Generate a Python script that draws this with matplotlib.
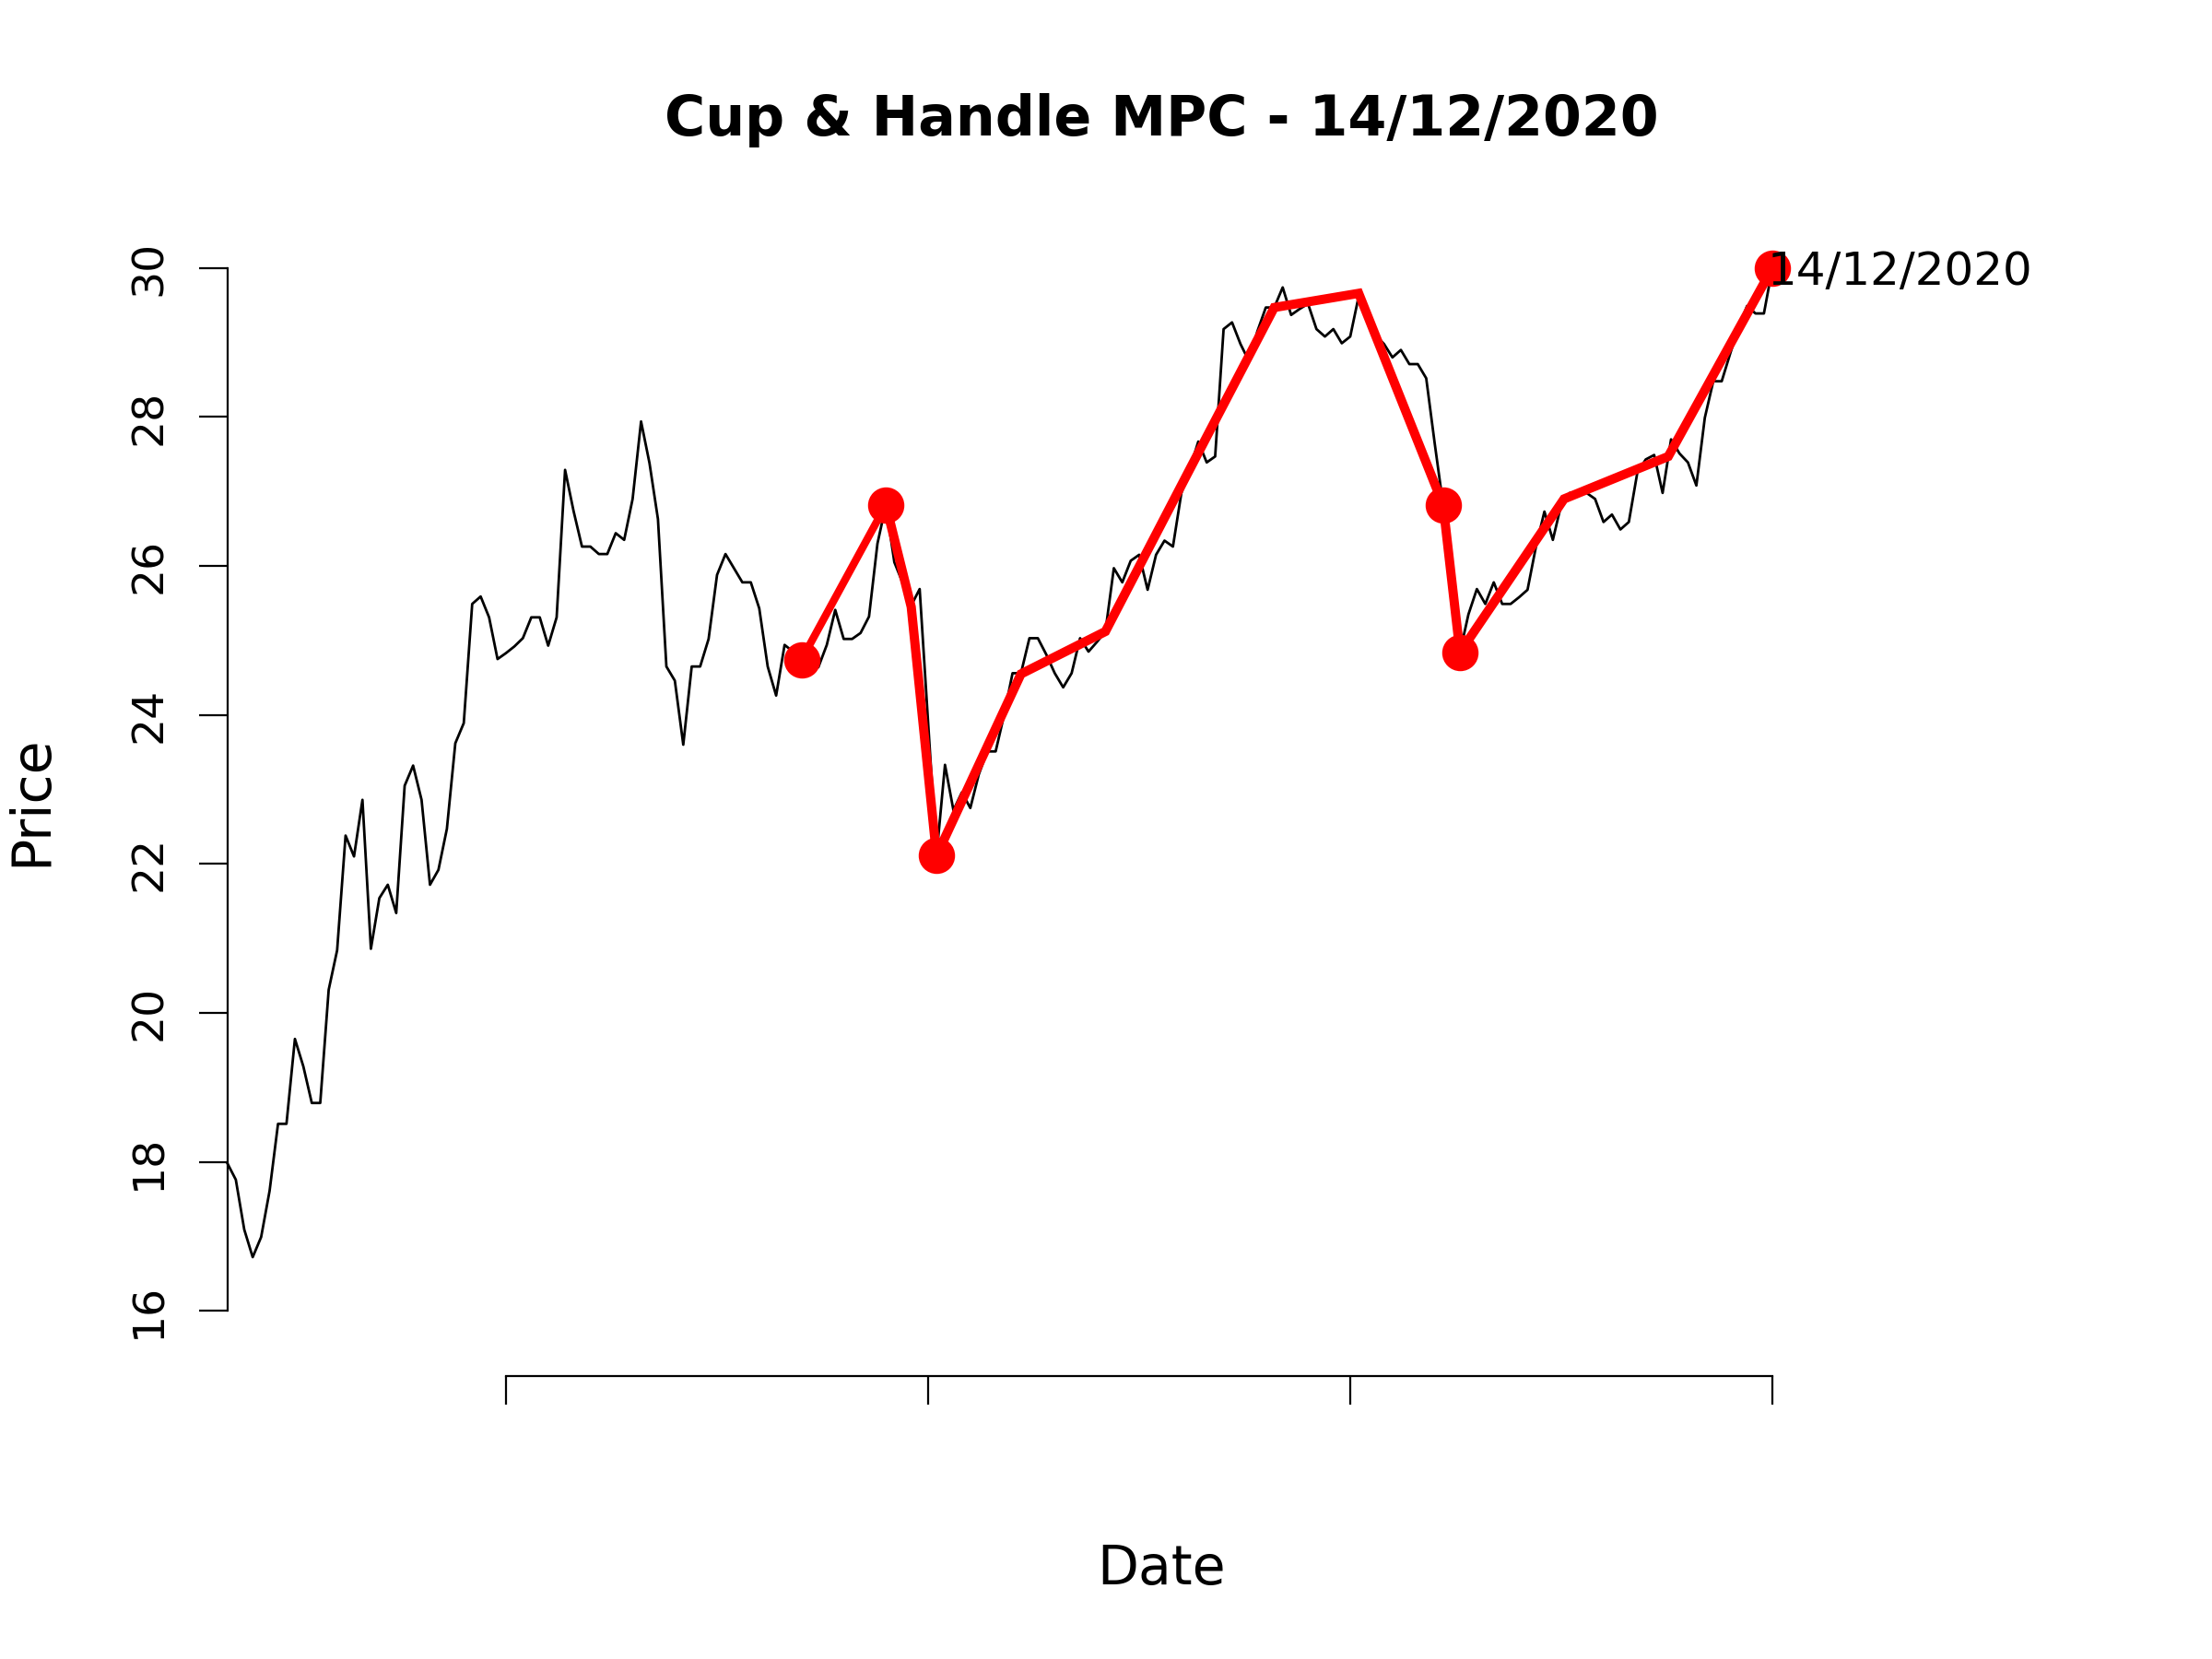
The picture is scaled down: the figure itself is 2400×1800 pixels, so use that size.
import matplotlib
matplotlib.use("Agg")
import matplotlib.pyplot as plt
import numpy as np

# ---- data -------------------------------------------------------------
start_index = 17
price = [
    17.98, 17.76, 17.09, 16.72, 16.99, 17.61, 18.51, 18.51, 19.65, 19.28,
    18.79, 18.79, 20.31, 20.84, 22.38, 22.10, 22.86, 20.86, 21.54, 21.72,
    21.34, 23.05, 23.32, 22.86, 21.72, 21.92, 22.47, 23.62, 23.89, 25.49,
    25.59, 25.31, 24.75, 24.83, 24.92, 25.03, 25.31, 25.31, 24.93, 25.31,
    27.29, 26.74, 26.26, 26.26, 26.16, 26.16, 26.44, 26.35, 26.90, 27.94,
    27.38, 26.63, 24.65, 24.46, 23.60, 24.65, 24.65, 25.02, 25.88, 26.16,
    25.97, 25.78, 25.78, 25.43, 24.65, 24.26, 24.94, 24.85, 24.74, 24.70,
    24.64, 24.94, 25.41, 25.02, 25.02, 25.10, 25.32, 26.30, 26.82, 26.05,
    25.77, 25.47, 25.69, 23.90, 22.11, 23.33, 22.72, 22.96, 22.75, 23.20,
    23.51, 23.51, 24.00, 24.56, 24.56, 25.03, 25.03, 24.81, 24.56, 24.37,
    24.56, 25.03, 24.85, 24.98, 25.12, 25.97, 25.78, 26.07, 26.15, 25.68,
    26.15, 26.34, 26.26, 26.98, 27.30, 27.67, 27.39, 27.47, 29.18, 29.27,
    28.98, 28.75, 29.15, 29.47, 29.47, 29.74, 29.37, 29.45, 29.52, 29.18,
    29.08, 29.18, 28.99, 29.08, 29.62, 29.40, 29.10, 28.98, 28.80, 28.90,
    28.71, 28.71, 28.52, 27.65, 26.82, 25.80, 24.84, 25.35, 25.69, 25.49,
    25.78, 25.49, 25.49, 25.58, 25.68, 26.26, 26.73, 26.35, 26.83, 26.98,
    26.98, 26.98, 26.90, 26.59, 26.69, 26.49, 26.59, 27.25, 27.43, 27.49,
    26.98, 27.70, 27.51, 27.39, 27.08, 27.99, 28.48, 28.48, 28.85, 29.20,
    29.49, 29.39, 29.39, 30.00,
]
days = list(range(start_index, start_index + len(price)))

# pattern legs (index, price)
leg_ab_x = [85, 95]
leg_ab_y = [24.74, 26.82]
leg_bc_x = [95, 98, 101]
leg_bc_y = [26.82, 25.45, 22.11]
leg_cd_x = [101, 111, 121, 131, 141, 151, 161]
leg_cd_y = [22.11, 24.55, 25.12, 27.30, 29.47, 29.66, 26.82]
leg_de_x = [161, 163]
leg_de_y = [26.82, 24.84]
leg_ef_x = [163, 175.33, 187.67, 200]
leg_ef_y = [24.84, 26.90, 27.47, 30.00]

pivot_x = [85, 95, 101, 161, 163, 200]
pivot_y = [24.74, 26.82, 22.11, 26.82, 24.84, 30.00]

y_ticks = [16, 18, 20, 22, 24, 26, 28, 30]
x_ticks = [50, 100, 150, 200]

title = "Cup & Handle MPC - 14/12/2020"
end_label = "14/12/2020"

# ---- figure -----------------------------------------------------------
W, H = 2400, 1800
fig = plt.figure(figsize=(12, 9), dpi=200)
left_px, right_px = 246.7, 1923.0
top_px, bottom_px = 290.8, 1493.3
ax = fig.add_axes([left_px / W, 1 - bottom_px / H,
                   (right_px - left_px) / W, (bottom_px - top_px) / H])
ax.set_xlim(days[0], days[-1])
ax.set_ylim(15.12, 30)

ax.plot(days, price, color="black", lw=1.0, clip_on=False, zorder=2)

red = "#ff0000"
ax.plot(leg_ab_x, leg_ab_y, color=red, lw=3.0, clip_on=False, zorder=3)
for xs, ys in [(leg_bc_x, leg_bc_y), (leg_cd_x, leg_cd_y),
               (leg_de_x, leg_de_y), (leg_ef_x, leg_ef_y)]:
    ax.plot(xs, ys, color=red, lw=3.6, clip_on=False, zorder=3,
            solid_joinstyle="miter")
ax.plot(pivot_x, pivot_y, "o", color=red, ms=13.2, mec=red, clip_on=False,
        zorder=4)

ax.annotate(end_label, xy=(pivot_x[-1], pivot_y[-1]), xytext=(-1.8, -6.4),
            textcoords="offset points", ha="left", va="baseline",
            fontsize=18, zorder=5, annotation_clip=False)

for s in ["top", "right"]:
    ax.spines[s].set_visible(False)
ax.spines["left"].set_bounds(16, 30)
ax.spines["bottom"].set_bounds(50, 200)
for s in ["left", "bottom"]:
    ax.spines[s].set_linewidth(0.8)

ax.set_xticks(x_ticks)
ax.set_xticklabels([""] * len(x_ticks))
ax.set_yticks(y_ticks)
ax.set_yticklabels([str(t) for t in y_ticks], rotation=90, va="center",
                   fontsize=17)
ax.tick_params(direction="out", length=11.3, width=0.8, pad=11)

fig.text(1260 / W, 1 - 146.7 / H, title, ha="center", va="baseline",
         fontsize=21.7, fontweight="bold")
fig.text(1260 / W, 1 - 1703 / H, "Date", ha="center", va="center",
         fontsize=21)
fig.text(34 / W, 1 - 869 / H, "Price", ha="center", va="center",
         rotation=90, fontsize=21)

fig.savefig("out.png", dpi=200)
